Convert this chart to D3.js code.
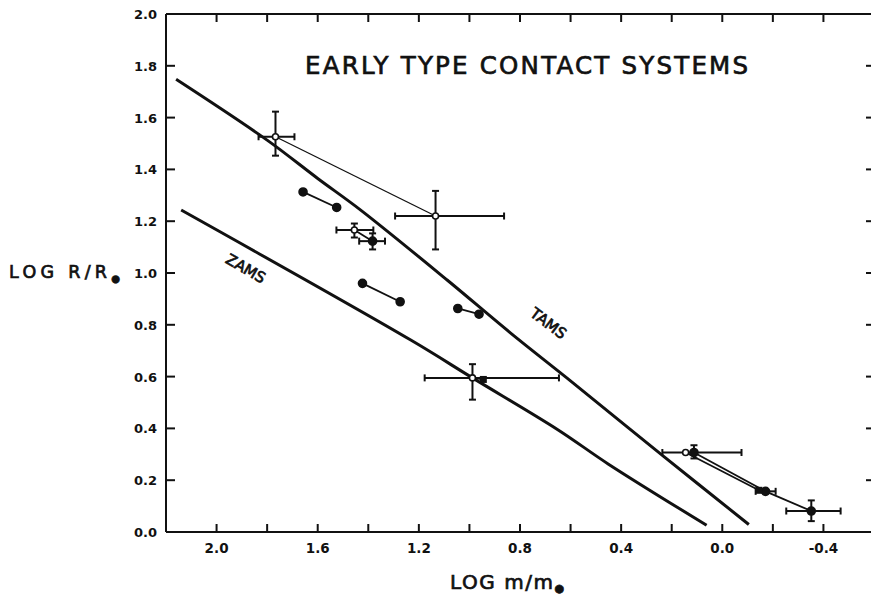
<!DOCTYPE html>
<html>
<head>
<meta charset="utf-8">
<script src="https://cdn.jsdelivr.net/npm/d3@7"></script>
<style>
  body { margin: 0; background: #fff; }
  svg { display: block; }
  text { font-family: "DejaVu Sans", sans-serif; fill: #111; }
  .heavy { stroke: #111; stroke-width: 0.7px; }
</style>
</head>
<body>
<div id="chart"></div>
<script>
// ZAMS and TAMS curves (log m, log R)
const zamsM = [2.14, 1.232, 0.988, 0.652, 0.45, 0.062];
const zamsR = [1.243, 0.741, 0.595, 0.396, 0.262, 0.026];
const tamsM = [2.16, 1.80, 1.60, 1.43, 1.087, 0.837, 0.593, 0.232, -0.105];
const tamsR = [1.748, 1.513, 1.365, 1.243, 0.972, 0.768, 0.578, 0.292, 0.029];

// individual components of the contact systems
const starM = [1.767, 1.134, 1.658, 1.525, 1.455, 1.383, 1.423, 1.274, 1.046, 0.962,
               0.988, 0.945, 0.145, 0.112, -0.145, -0.171, -0.352];
const starR = [1.526, 1.220, 1.313, 1.253, 1.166, 1.123, 0.960, 0.889, 0.863, 0.841,
               0.595, 0.589, 0.307, 0.307, 0.161, 0.157, 0.081];
const starMarker = ['open', 'open', 'filled', 'filled', 'open', 'filled', 'filled', 'filled', 'filled', 'filled',
                    'open', 'square', 'open', 'filled', 'square', 'filled', 'filled'];
// error bars: [index, low, high]
const massErrors = [[0, 1.692, 1.834], [1, 0.863, 1.294], [4, 1.380, 1.526], [5, 1.334, 1.436],
                    [10, 0.646, 1.177], [13, -0.076, 0.237], [15, -0.211, -0.132], [16, -0.468, -0.253]];
const radiusErrors = [[0, 1.453, 1.623], [1, 1.091, 1.317], [4, 1.137, 1.191], [5, 1.091, 1.153],
                      [10, 0.511, 0.648], [13, 0.284, 0.335], [16, 0.042, 0.122]];
// components joined by a line
const links = [[0, 1], [2, 3], [4, 5], [6, 7], [8, 9], [10, 11], [12, 14], [13, 15], [15, 16]];

const xTicks = [2.0, 1.6, 1.2, 0.8, 0.4, 0.0, -0.4];
const yTicks = [0.0, 0.2, 0.4, 0.6, 0.8, 1.0, 1.2, 1.4, 1.6, 1.8, 2.0];

const width = 871, height = 596;
const svg = d3.select('#chart').append('svg')
    .attr('width', width)
    .attr('height', height);

const x = d3.scaleLinear().domain([2.2, -0.6]).range([166, 874]);
const y = d3.scaleLinear().domain([0, 2]).range([532, 14]);

// frame
const frame = svg.append('g').attr('class', 'frame')
    .attr('stroke', '#111').attr('stroke-width', 2).attr('fill', 'none');
frame.append('path').attr('d', `M${x(2.2)},${y(0)}H${x(-0.6)}`);
frame.append('path').attr('d', `M${x(2.2)},${y(2)}H${x(-0.6)}`);
frame.append('path').attr('d', `M${x(2.2)},${y(0)}V${y(2)}`);

// ticks every 0.2
const xTickVals = d3.range(-10, 11).map(d => d / 5).filter(d => d > -0.6 && d < 2.2);
const yTickVals = d3.range(1, 10).map(d => d / 5);
frame.selectAll('.xb').data(xTickVals).join('line')
    .attr('x1', d => x(d)).attr('x2', d => x(d))
    .attr('y1', y(0)).attr('y2', y(0) - 8);
frame.selectAll('.xt').data(xTickVals).join('line')
    .attr('x1', d => x(d)).attr('x2', d => x(d))
    .attr('y1', y(2)).attr('y2', y(2) + 8);
frame.selectAll('.yl').data(yTickVals).join('line')
    .attr('x1', x(2.2)).attr('x2', x(2.2) + 9)
    .attr('y1', d => y(d)).attr('y2', d => y(d));
frame.selectAll('.yr').data(yTickVals).join('line')
    .attr('x1', 866).attr('x2', 874)
    .attr('y1', d => y(d)).attr('y2', d => y(d));

// tick labels
svg.append('g').selectAll('text').data(xTicks).join('text')
    .attr('x', d => x(d)).attr('y', 553)
    .attr('text-anchor', 'middle')
    .style('font-size', '13.5px').style('font-weight', 'bold')
    .text(d => d3.format('.1f')(d).replace('−', '-'));
svg.append('g').selectAll('text').data(yTicks).join('text')
    .attr('x', 157).attr('y', d => y(d) + 5)
    .attr('text-anchor', 'end')
    .style('font-size', '13px').style('font-weight', 'bold')
    .text(d => d3.format('.1f')(d));

// axis titles
const yTitle = svg.append('text').attr('class', 'heavy').attr('x', 9).attr('y', 278)
    .style('font-size', '17.5px');
yTitle.append('tspan').text('LOG R/R').attr('textLength', 98).attr('lengthAdjust', 'spacing');
yTitle.append('tspan').text('●').attr('dy', 4).style('font-size', '10px');

const xTitle = svg.append('text').attr('class', 'heavy').attr('x', 450).attr('y', 589)
    .style('font-size', '20px');
xTitle.append('tspan').text('LOG m/m').attr('textLength', 103).attr('lengthAdjust', 'spacing');
xTitle.append('tspan').text('●').attr('dy', 3).style('font-size', '11px');

svg.append('text').attr('class', 'heavy')
    .attr('x', 305).attr('y', 74)
    .attr('textLength', 443).attr('lengthAdjust', 'spacing')
    .style('font-size', '24.5px')
    .text('EARLY TYPE CONTACT SYSTEMS');

// curves
const line = d3.line().x(d => x(d[0])).y(d => y(d[1])).curve(d3.curveCatmullRom);
const curves = svg.append('g').attr('fill', 'none').attr('stroke', '#111')
    .attr('stroke-width', 3).attr('stroke-linejoin', 'round');
curves.append('path').datum(d3.zip(zamsM, zamsR)).attr('d', line);
curves.append('path').datum(d3.zip(tamsM, tamsR)).attr('d', line);

svg.append('text').attr('class', 'heavy')
    .attr('transform', `translate(${x(1.895)},${y(1.0)}) rotate(30)`)
    .attr('text-anchor', 'middle')
    .style('font-size', '15px')
    .text('ZAMS');
svg.append('text').attr('class', 'heavy')
    .attr('transform', `translate(${x(0.70)},${y(0.79)}) rotate(37)`)
    .attr('text-anchor', 'middle')
    .style('font-size', '15px')
    .text('TAMS');

// connecting lines
svg.append('g').attr('stroke', '#111')
    .selectAll('line').data(links).join('line')
    .attr('x1', d => x(starM[d[0]])).attr('y1', d => y(starR[d[0]]))
    .attr('x2', d => x(starM[d[1]])).attr('y2', d => y(starR[d[1]]))
    .attr('stroke-width', (d, i) => i === 0 ? 1.3 : 1.8);

// error bars
const bars = svg.append('g').attr('stroke', '#111').attr('stroke-width', 2);
massErrors.forEach(([i, lo, hi]) => {
    const cy = y(starR[i]);
    bars.append('line').attr('x1', x(lo)).attr('x2', x(hi)).attr('y1', cy).attr('y2', cy);
    [lo, hi].forEach(v => bars.append('line')
        .attr('x1', x(v)).attr('x2', x(v)).attr('y1', cy - 3.5).attr('y2', cy + 3.5));
});
radiusErrors.forEach(([i, lo, hi]) => {
    const cx = x(starM[i]);
    bars.append('line').attr('x1', cx).attr('x2', cx).attr('y1', y(lo)).attr('y2', y(hi));
    [lo, hi].forEach(v => bars.append('line')
        .attr('x1', cx - 3.5).attr('x2', cx + 3.5).attr('y1', y(v)).attr('y2', y(v)));
});

// markers
const idx = d3.range(starM.length);
const marks = svg.append('g');
marks.selectAll('circle').data(idx.filter(i => starMarker[i] !== 'square')).join('circle')
    .attr('cx', i => x(starM[i])).attr('cy', i => y(starR[i]))
    .attr('r', i => starMarker[i] === 'open' ? 3 : 4)
    .attr('fill', i => starMarker[i] === 'open' ? '#fff' : '#111')
    .attr('stroke', '#111').attr('stroke-width', 1.6);
marks.selectAll('rect').data(idx.filter(i => starMarker[i] === 'square')).join('rect')
    .attr('x', i => x(starM[i]) - 3.5).attr('y', i => y(starR[i]) - 3.5)
    .attr('width', 7).attr('height', 7)
    .attr('fill', '#111');
</script>
</body>
</html>
